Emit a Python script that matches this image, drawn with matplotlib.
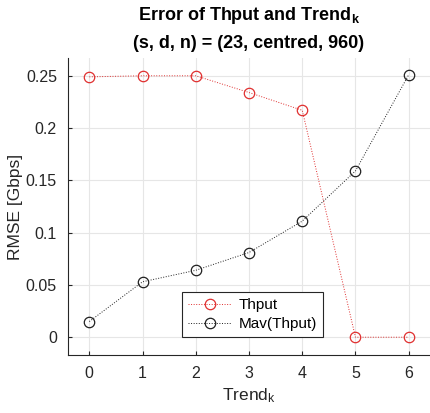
import matplotlib
matplotlib.use("Agg")
import matplotlib.pyplot as plt

plt.rcParams['font.family'] = ['Liberation Sans', 'DejaVu Sans']
plt.rcParams['mathtext.fontset'] = 'custom'
plt.rcParams['mathtext.rm'] = 'Liberation Sans'
plt.rcParams['mathtext.it'] = 'Liberation Sans'
plt.rcParams['mathtext.bf'] = 'Liberation Sans:bold'

trend_k = [0, 1, 2, 3, 4, 5, 6]
rmse_thput = [0.249, 0.250, 0.250, 0.234, 0.217, 0.0, 0.0]
rmse_mav = [0.015, 0.053, 0.064, 0.081, 0.111, 0.159, 0.251]

fig = plt.figure(figsize=(4.30, 4.13), dpi=100)
ax = fig.add_axes([68 / 430, 58 / 413, 362 / 430, 297 / 413])

ax.plot(trend_k, rmse_thput, ':', color='#e03030', lw=0.7, marker='o', ms=7.5,
        mfc='none', mec='#e03030', mew=0.9, label='Thput')
ax.plot(trend_k, rmse_mav, ':', color='#202020', lw=0.7, marker='o', ms=7.5,
        mfc='none', mec='#202020', mew=0.9, label='Mav(Thput)')

ax.set_xlim(-0.4, 6.4)
ax.set_ylim(-0.017, 0.267)
ax.set_xticks(trend_k)
ax.set_yticks([0, 0.05, 0.1, 0.15, 0.2, 0.25])
ax.set_yticklabels(['0', '0.05', '0.1', '0.15', '0.2', '0.25'])
ax.grid(True, color='#e6e6e6', lw=0.8)
ax.set_axisbelow(True)
for s in ['top', 'right']:
    ax.spines[s].set_visible(False)
for s in ['left', 'bottom']:
    ax.spines[s].set_color('#262626')
    ax.spines[s].set_linewidth(0.8)
ax.tick_params(labelsize=11.5, colors='#262626', direction='in', length=3, pad=8)

ax.set_xlabel('Trend$_\\mathregular{k}$', fontsize=12.5, color='#262626')
ax.set_ylabel('RMSE [Gbps]', fontsize=12.5, color='#262626', labelpad=2)
ax.set_title('Error of Thput and Trend$_\\mathbf{k}$\n(s, d, n) = (23, centred, 960)',
             fontsize=13, fontweight='bold', linespacing=1.75, pad=7)

leg = ax.legend(loc='lower center', bbox_to_anchor=(0.51, 0.035), fontsize=11,
                fancybox=False, edgecolor='#262626', framealpha=1,
                handlelength=2.8, handletextpad=0.5, borderpad=0.4, labelspacing=0.3)
leg.get_frame().set_linewidth(0.8)

fig.savefig('out.png', dpi=100)
